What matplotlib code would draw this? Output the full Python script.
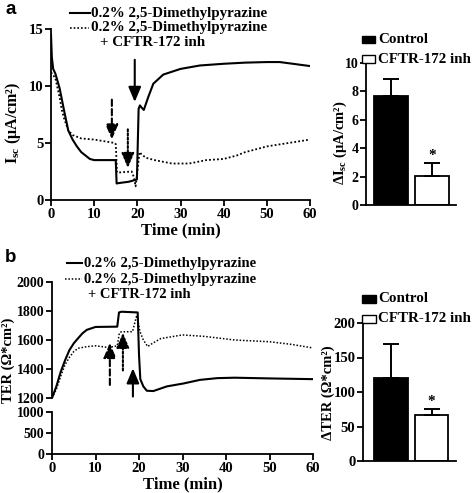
import matplotlib
matplotlib.use('Agg')
import matplotlib.pyplot as plt
from matplotlib.lines import Line2D
from matplotlib.patches import Rectangle

plt.rcParams['font.family'] = ['Liberation Serif', 'DejaVu Serif']
plt.rcParams['font.weight'] = 'bold'
plt.rcParams['mathtext.fontset'] = 'custom'
plt.rcParams['mathtext.rm'] = 'Liberation Serif:bold'
plt.rcParams['mathtext.it'] = 'Liberation Serif:italic:bold'
plt.rcParams['mathtext.bf'] = 'Liberation Serif:bold'
plt.rcParams['mathtext.default'] = 'rm'
plt.rcParams['axes.linewidth'] = 1.3

# ---------------- data ----------------
legend_ctrl = "0.2% 2,5-Dimethylpyrazine"
legend_inh_1 = "0.2% 2,5-Dimethylpyrazine"
legend_inh_2 = "+ CFTR-172 inh"
bar_labels = ["Control", "CFTR-172 inh"]

isc_time_ctrl = [0, 0.2, 0.5, 1, 2, 3, 4, 5, 6, 7, 8, 9, 10, 12, 15.0, 15.2, 16, 18, 19.9,
                 20.3, 20.6, 21.0, 21.5, 22.5, 23.7, 26, 30, 34.5, 40, 45, 50, 53, 56, 60]
isc_ctrl = [14.5, 12.5, 11.5, 11.1, 9.8, 7.9, 6.1, 5.3, 4.7, 4.2, 3.9, 3.6, 3.5, 3.5, 3.5, 1.45,
            1.5, 1.6, 1.8, 8.0, 8.3, 8.1, 7.9, 9.0, 10.2, 11.0, 11.5, 11.8, 11.95, 12.05, 12.1,
            12.1, 11.95, 11.75]

isc_time_inh = [0, 1, 2, 2.5, 3, 4, 5, 7, 10, 14.8, 15.0, 15.3, 17, 18.7, 19.2, 19.6, 20.0,
                20.5, 21, 22, 24, 28, 32, 36, 40, 43, 45, 50, 55, 60]
isc_inh = [11.2, 10.7, 9.0, 7.9, 7.2, 6.1, 5.7, 5.4, 5.3, 5.0, 4.9, 2.4, 2.45, 2.5, 2.0, 1.2,
           2.5, 4.2, 4.0, 3.7, 3.5, 3.2, 3.2, 3.5, 3.6, 3.9, 4.2, 4.7, 5.0, 5.3]

ter_time_ctrl = [0, 1, 2, 3, 4, 5, 6, 7, 8, 9, 10, 15.0, 15.4, 16, 19.7, 20.0, 20.3, 21, 21.8,
                 23.3, 26.4, 30.2, 34, 38, 42, 50, 60]
ter_ctrl = [1200, 1280, 1380, 1460, 1530, 1577, 1612, 1646, 1670, 1680, 1690, 1692, 1790, 1795,
            1790, 1500, 1330, 1280, 1250, 1248, 1280, 1300, 1325, 1337, 1340, 1335, 1330]

ter_time_inh = [0, 1, 2, 3, 4, 5, 6, 8, 10, 13, 15, 15.5, 16, 18.5, 19.5, 20.2, 21, 22, 23, 25,
                30, 35, 42, 50, 55, 60]
ter_inh = [1200, 1260, 1350, 1430, 1480, 1520, 1543, 1554, 1560, 1548, 1560, 1650, 1657, 1657,
           1772, 1660, 1600, 1555, 1575, 1610, 1635, 1625, 1600, 1588, 1570, 1545]

isc_delta = [7.7, 2.05]
isc_err = [1.2, 0.9]
ter_delta = [121, 67]
ter_err = [49, 8]

time_ticks = [0, 10, 20, 30, 40, 50, 60]

# ---------------- figure ----------------
W, H = 472, 493
fig = plt.figure(figsize=(W / 100, H / 100), dpi=100)


def ax_px(l, t, r, b):
    return fig.add_axes([l / W, 1 - b / H, (r - l) / W, (b - t) / H])


def style(ax, fs=10.5):
    for s in ['top', 'right']:
        ax.spines[s].set_visible(False)
    ax.tick_params(direction='out', length=4, width=1.3, labelsize=fs, pad=1.5)
    for lab in ax.get_xticklabels() + ax.get_yticklabels():
        lab.set_fontweight('bold')


AP = dict(arrowstyle='-|>,head_length=0.9,head_width=0.38', color='black', lw=1.5,
          mutation_scale=10, shrinkA=0, shrinkB=0)


def arrow(ax, x, y0, y1, ls):
    ax.annotate('', xy=(x, y1), xytext=(x, y0), arrowprops=dict(AP, linestyle=ls))


# ---- Panel a: time course ----
axa = ax_px(51, 29, 310, 200)
axa.plot(isc_time_ctrl, isc_ctrl, color='black', lw=1.5)
axa.plot(isc_time_inh, isc_inh, color='black', lw=1.3, ls=(0, (1, 1.2)))
axa.set_xlim(0, 60)
axa.set_ylim(0, 15)
axa.set_xticks(time_ticks)
axa.set_yticks([0, 5, 10, 15])
style(axa)
axa.set_xlabel('Time (min)', fontsize=12, fontweight='bold', labelpad=1)
arrow(axa, 14.1, 8.8, 5.3, (0, (3, 1.5)))
arrow(axa, 17.8, 6.2, 2.8, (0, (1, 1)))
arrow(axa, 19.4, 12.3, 8.6, '-')
fig.text(13 / W, 1 - 123 / H, 'I$_{sc}$ (μA/cm²)', rotation=90, fontsize=11.5,
         fontweight='bold', ha='center', va='center')

# ---- Panel a: bars ----
axab = ax_px(366, 63, 456, 205)
axab.bar([0, 1], isc_delta, width=0.83, color=['black', 'white'], edgecolor='black', lw=1.3)
axab.errorbar([0, 1], isc_delta, yerr=[[0, 0], isc_err], fmt='none', ecolor='black',
              elinewidth=1.4, capsize=6, capthick=1.4)
axab.text(1, isc_delta[1] + isc_err[1] + 0.1, '*', ha='center', va='bottom', fontsize=11)
axab.set_xlim(-0.61, 1.59)
axab.set_ylim(0, 10)
axab.set_yticks([0, 2, 4, 6, 8, 10])
axab.set_xticks([])
style(axab, 10)
fig.text(340 / W, 1 - 143 / H, 'ΔI$_{sc}$ (μA/cm²)', rotation=90, fontsize=10.5,
         fontweight='bold', ha='center', va='center')

# ---- Panel b: time course (broken axis) ----
axbu = ax_px(52, 282, 313, 398)
axbl = ax_px(52, 412, 313, 454)
for ax in (axbu, axbl):
    ax.plot(ter_time_ctrl, ter_ctrl, color='black', lw=1.5)
    ax.plot(ter_time_inh, ter_inh, color='black', lw=1.1, ls=(0, (1, 1.2)))
    ax.set_xlim(0, 60)
axbu.set_ylim(1200, 2000)
axbu.set_yticks([1200, 1400, 1600, 1800, 2000])
axbl.set_ylim(0, 1000)
axbl.set_yticks([0, 500, 1000])
axbl.set_xticks(time_ticks)
style(axbu, 10)
style(axbl, 10)
axbl.tick_params(axis='x', labelsize=10.5)
axbu.spines['bottom'].set_visible(False)
axbu.set_xticks([])
axbl.set_xlabel('Time (min)', fontsize=12, fontweight='bold', labelpad=1)
arrow(axbu, 13.3, 1290, 1580, (0, (3, 1.5)))
arrow(axbu, 16.3, 1390, 1650, (0, (1, 1)))
arrow(axbu, 18.6, 1210, 1405, '-')
fig.text(8.5 / W, 1 - 360 / H, 'TER (Ω*cm²)', rotation=90, fontsize=10.5,
         fontweight='bold', ha='center', va='center')

# ---- Panel b: bars ----
axbb = ax_px(363, 323, 456, 461)
axbb.bar([0, 1], ter_delta, width=0.83, color=['black', 'white'], edgecolor='black', lw=1.3)
axbb.errorbar([0, 1], ter_delta, yerr=[[0, 0], ter_err], fmt='none', ecolor='black',
              elinewidth=1.4, capsize=6, capthick=1.4)
axbb.text(1, ter_delta[1] + ter_err[1] + 2, '*', ha='center', va='bottom', fontsize=11)
axbb.set_xlim(-0.68, 1.6)
axbb.set_ylim(0, 200)
axbb.set_yticks([0, 50, 100, 150, 200])
axbb.set_xticks([])
style(axbb, 10.5)
fig.text(328 / W, 1 - 393 / H, 'ΔTER (Ω*cm²)', rotation=90, fontsize=10.5,
         fontweight='bold', ha='center', va='center')

# ---- legends (drawn in figure pixel space) ----
def fline(x0, x1, y, **kw):
    fig.add_artist(Line2D([x0 / W, x1 / W], [1 - y / H, 1 - y / H], color='black', **kw))


def ftext(x, y, s, fs=10.5, **kw):
    fig.text(x / W, 1 - y / H, s, fontsize=fs, fontweight='bold', va='center', ha='left', **kw)


# panel a line legend
fline(70, 90, 13, lw=1.5)
ftext(91, 13, legend_ctrl, fs=10.8)
fline(70, 89, 28, lw=1.2, ls=(0, (1, 1.2)))
ftext(91, 28, legend_inh_1, fs=10.8)
ftext(100, 43, legend_inh_2, fs=10.8)
# panel b line legend
fline(67, 82, 263, lw=1.5)
ftext(84, 263, legend_ctrl)
fline(65, 82, 279, lw=1.1, ls=(0, (1, 1.2)))
ftext(84, 279, legend_inh_1)
ftext(88, 294, legend_inh_2)


def fbox(x0, y0, x1, y1, fc):
    fig.add_artist(Rectangle((x0 / W, 1 - y1 / H), (x1 - x0) / W, (y1 - y0) / H,
                             facecolor=fc, edgecolor='black', lw=1.0, transform=fig.transFigure))


# bar legends
fbox(362, 36, 375, 43, 'black')
ftext(378, 39.5, bar_labels[0], fs=10.8)
fbox(362, 55, 375, 63, 'white')
ftext(378, 59.5, bar_labels[1], fs=10.8)
fbox(362, 295, 376, 303, 'black')
ftext(378, 299, bar_labels[0], fs=10.8)
fbox(362, 315, 376, 323, 'white')
ftext(378, 319, bar_labels[1], fs=10.8)

# panel letters
fig.text(5 / W, 1 - 9 / H, 'a', fontsize=13.5, fontweight='bold', family='Liberation Sans',
         va='center', ha='left')
fig.text(5 / W, 1 - 257 / H, 'b', fontsize=13.5, fontweight='bold', family='Liberation Sans',
         va='center', ha='left')

fig.savefig('out.png', dpi=100)
